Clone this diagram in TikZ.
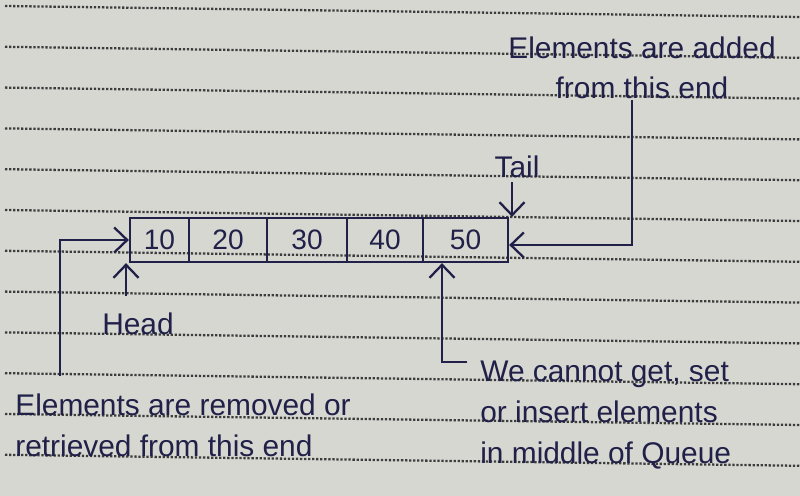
\documentclass[tikz,border=0pt]{standalone}
\usepackage{fontspec}
\setmainfont{Liberation Sans}
\usetikzlibrary{arrows.meta,positioning,calc}
\definecolor{paper}{RGB}{214,215,209}
\definecolor{ink}{RGB}{32,32,72}
\definecolor{ruleink}{RGB}{60,60,60}
\tikzset{
  inkline/.style={draw=ink, line width=1.3pt},
  cell/.style={inkline, minimum height=0.88cm, inner sep=0pt, text=ink,
    font=\fontsize{16}{20}\selectfont},
  note/.style={text=ink, inner sep=0pt, font=\fontsize{17}{23.3}\selectfont},
  hand/.style={inkline, -{Straight Barb[length=2.6mm,width=5mm]}},
  ruled/.style={draw=ruleink, line width=1.3pt, densely dotted},
}

\begin{document}
\begin{tikzpicture}[x=0.02cm, y=-0.02cm]
    % paper and its ruled lines
    \fill[paper] (0,0) rectangle (800,496);
    \useasboundingbox (0,0) rectangle (800,496);
    \foreach \k in {0,...,11} {
        \draw[ruled] (5,{6+40.8*\k}) -- (800,{17+40.8*\k});
    }

    % the queue
    \foreach \i/\a/\b/\v in {1/130/189/10, 2/189/267/20, 3/267/347/30, 4/347/423/40, 5/423/508/50} {
        \node[cell, minimum width={(\b-\a)*0.02cm}] (c\i) at ({(\a+\b)/2},240) {\v};
    }

    % labels (base = last line)
    \node[note, anchor=base, align=center] (added) at (642,99) {Elements are added\\from this end};
    \node[note, anchor=base] (tail) at (517,178) {Tail};
    \node[note, anchor=base] (head) at (138,334) {Head};
    \node[note, anchor=base west, align=left] (removed) at (15,456) {Elements are removed or\\retrieved from this end};
    \node[note, anchor=base west, align=left] (middle) at (480,463) {We cannot get, set\\or insert elements\\in middle of Queue};

    % arrows
    \coordinate (remtop) at (60,376);
    \draw[hand] (remtop) |- (c1.west);
    \coordinate (headtip) at (126,296);
    \draw[hand] (headtip) -- (headtip |- c1.south);
    \coordinate (tailtop) at (512,182);
    \draw[hand] (tailtop) -- (tailtop |- c5.north);
    \coordinate (addtop) at (632,100);
    \draw[hand] (addtop) |- ([yshift=-0.1cm]c5.east);
    \coordinate (midend) at (467,362);
    \draw[hand] (midend) -| ([xshift=-0.47cm]c5.south);
\end{tikzpicture}
\end{document}
